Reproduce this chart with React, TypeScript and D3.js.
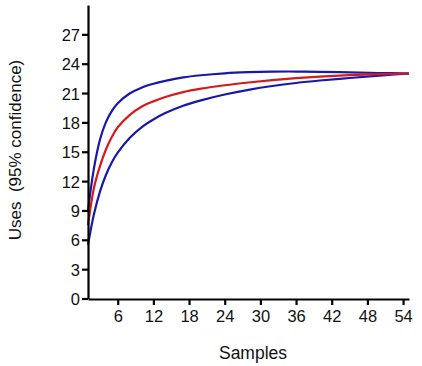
import React, { useEffect, useRef } from 'react';
import { select, scaleLinear, axisBottom, axisLeft, line, curveCatmullRom } from 'd3';

// rarefaction curve
const samples = [1, 2, 3, 4, 5, 6, 8, 10, 12, 14, 17, 20, 24, 28, 32, 36, 40, 45, 50, 55];
const meanUses = [7.5, 11.3, 13.5, 15.2, 16.5, 17.5, 18.75, 19.6, 20.15, 20.6, 21.1, 21.45, 21.8, 22.08, 22.32, 22.52, 22.68, 22.83, 22.93, 23.0];
const upperUses = [9.0, 13.3, 16.2, 18.0, 19.15, 19.95, 20.95, 21.55, 21.95, 22.25, 22.6, 22.82, 23.02, 23.13, 23.19, 23.2, 23.17, 23.11, 23.05, 23.0];
const lowerUses = [5.5, 8.6, 10.9, 12.6, 13.9, 14.9, 16.4, 17.5, 18.3, 18.95, 19.7, 20.25, 20.85, 21.33, 21.72, 22.03, 22.28, 22.54, 22.78, 23.0];
const xTicks = [6, 12, 18, 24, 30, 36, 42, 48, 54];
const yTicks = [0, 3, 6, 9, 12, 15, 18, 21, 24, 27];

const FONT = '"Liberation Sans", Arial, sans-serif';

const App = () => {
    const svgRef = useRef<SVGSVGElement>(null);

    useEffect(() => {
        const svg = select(svgRef.current);

        const xScale = scaleLinear().domain([1, 55]).range([88, 409]);
        const yScale = scaleLinear().domain([0, 30]).range([298.5, 5]);

        const xAxis = axisBottom(xScale).tickValues(xTicks).tickSize(6).tickPadding(5).tickSizeOuter(0);
        svg.select('.x-axis')
            .attr('transform', 'translate(0,299)')
            .call(xAxis as any);

        const yAxis = axisLeft(yScale).tickValues(yTicks).tickSize(6).tickPadding(2).tickSizeOuter(0);
        svg.select('.y-axis')
            .attr('transform', 'translate(88,0)')
            .call(yAxis as any);

        svg.selectAll('.x-axis, .y-axis').selectAll('.domain, line')
            .attr('stroke', '#000')
            .attr('stroke-width', 2.2);
        svg.selectAll('.x-axis, .y-axis').selectAll('text')
            .attr('font-family', FONT)
            .attr('font-size', 16.5)
            .attr('fill', '#111');
        svg.select('.y-axis').selectAll('text').attr('dy', '0.36em');

        const series = [
            { values: lowerUses, color: '#1818aa' },
            { values: upperUses, color: '#1818aa' },
            { values: meanUses, color: '#d41a1a' },
        ];

        const pathGen = line<number>()
            .x((d, i) => xScale(samples[i]))
            .y((d) => yScale(d))
            .curve(curveCatmullRom.alpha(0.5));

        svg.select('.lines')
            .selectAll('path')
            .data(series)
            .join('path')
            .attr('d', (s) => pathGen(s.values))
            .attr('fill', 'none')
            .attr('stroke', (s) => s.color)
            .attr('stroke-width', 2.2);
    }, []);

    return (
        <svg
            ref={svgRef}
            width={422}
            height={366}
            style={{ position: 'absolute', left: 0, top: 0, background: '#fff' }}
        >
            <g className="lines" />
            <g className="x-axis" />
            <g className="y-axis" />
            <text x={253} y={359} textAnchor="middle" fontFamily={FONT} fontSize={17.5} fill="#111">
                Samples
            </text>
            <text
                transform="translate(21,150) rotate(-90)"
                textAnchor="middle"
                fontFamily={FONT}
                fontSize={17}
                fill="#111"
                xmlSpace="preserve"
            >
                Uses  (95% confidence)
            </text>
        </svg>
    );
};

export default App;
